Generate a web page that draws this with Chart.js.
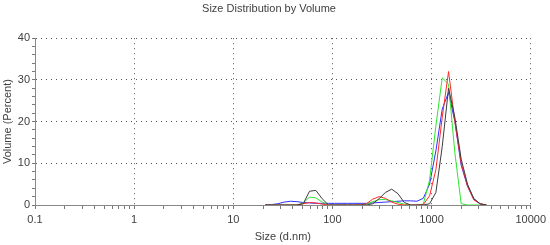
<!DOCTYPE html>
<html>
<head>
<meta charset="utf-8">
<script src="https://cdn.jsdelivr.net/npm/chart.js@4.4.0/dist/chart.umd.min.js"></script>
<style>
  html, body { margin: 0; padding: 0; background: #fff; }
  #wrap { width: 550px; height: 245px; }
</style>
</head>
<body>
<div id="wrap"><canvas id="chart"></canvas></div>
<script>
// size bins (d.nm)
const sizes = [21.04, 24.36, 28.21, 32.67, 37.84, 43.82, 50.75, 58.77, 68.06, 78.82, 91.28, 105.7, 122.4, 141.8, 164.2, 190.1, 220.2, 255.0, 295.3, 342.0, 396.1, 458.7, 531.2, 615.1, 712.4, 825.0, 955.4, 1106, 1281, 1484, 1718, 1990, 2305, 2669, 3091, 3580];

// volume % per run
const black = [0, 0, 0, 0, 0, 0, 0.3, 3.3, 3.5, 1.5, 0, 0, 0, 0, 0, 0, 0, 0.3, 1.5, 3.0, 3.8, 2.7, 0.6, 0, 0, 0, 0.3, 3, 14, 28, 21, 11, 5, 1.5, 0.3, 0];
const red = [0, 0, 0, 0, 0, 0, 0.3, 0.6, 0.5, 0.2, 0, 0, 0, 0, 0, 0, 0.3, 1.4, 2.0, 1.6, 0.7, 0.2, 0, 0, 0, 0.1, 2.2, 8.5, 21, 32, 20, 10, 4.5, 1.2, 0.3, 0];
const green = [0, 0, 0, 0, 0, 0, 0.5, 1.9, 1.7, 0.7, 0, 0, 0, 0, 0, 0, 0.2, 0.8, 1.3, 1.3, 1.0, 0.6, 0.2, 0, 0, 0.2, 6, 19, 30.5, 29, 12.5, 0.3, 0, 0, 0, 0];
const blue = [0, 0.1, 0.3, 0.7, 0.9, 0.8, 0.6, 0.5, 0.4, 0.4, 0.4, 0.4, 0.4, 0.4, 0.4, 0.4, 0.4, 0.5, 0.6, 0.7, 0.8, 0.9, 1.0, 1.0, 0.9, 1.6, 5, 13, 23, 27, 20, 9.5, 4.5, 1.5, 0.2, 0];

const xTicks = [];
for (let e = -1; e <= 3; e++) {
    for (let m = 1; m <= 9; m++) xTicks.push(m * Math.pow(10, e));
}
xTicks.push(10000);

function isDecade(v) {
    const l = Math.log10(v);
    return Math.abs(l - Math.round(l)) < 1e-9;
}

function series(label, values, color) {
    return {
        label: label,
        data: sizes.map((s, i) => ({x: s, y: values[i]})),
        borderColor: color,
        borderWidth: 1,
        pointRadius: 0,
        tension: 0,
        fill: false
    };
}

const font = {family: 'Arial, "Liberation Sans", sans-serif', size: 11, weight: 'normal'};
const textColor = '#404040';

new Chart(document.getElementById('chart'), {
    type: 'line',
    data: {
        datasets: [
            series('Record 1', black, '#3c3c3c'),
            series('Record 2', red, '#ff2a2a'),
            series('Record 3', green, '#2ee62e'),
            series('Record 4', blue, '#3030ff')
        ]
    },
    options: {
        responsive: true,
        maintainAspectRatio: false,
        animation: false,
        layout: {padding: {right: 12}},
        plugins: {
            legend: {display: false},
            tooltip: {enabled: false},
            title: {
                display: true,
                text: 'Size Distribution by Volume',
                color: textColor,
                font: font,
                padding: {top: 2, bottom: 23}
            }
        },
        scales: {
            x: {
                type: 'logarithmic',
                min: 0.1,
                max: 10000,
                afterBuildTicks: scale => {
                    scale.ticks = xTicks.map(v => ({value: v, major: isDecade(v)}));
                },
                afterFit: scale => { scale.height = 40; },
                ticks: {
                    autoSkip: false,
                    maxRotation: 0,
                    color: textColor,
                    font: font,
                    padding: 4,
                    callback: v => isDecade(v) ? String(v) : ''
                },
                grid: {
                    color: c => (c.tick && isDecade(c.tick.value) && c.tick.value > 0.1) ? '#555' : 'rgba(0,0,0,0)',
                    tickColor: '#777',
                    tickWidth: 1,
                    tickLength: 4,
                    lineWidth: 1
                },
                border: {color: '#888', width: 1, dash: [1, 4]},
                title: {
                    display: true,
                    text: 'Size (d.nm)',
                    color: textColor,
                    font: font,
                    padding: {top: 0, bottom: 1}
                }
            },
            y: {
                min: 0,
                max: 40,
                afterFit: scale => { scale.width = 35; },
                ticks: {
                    stepSize: 2,
                    autoSkip: false,
                    color: textColor,
                    font: font,
                    padding: 2,
                    callback: v => v % 10 === 0 ? String(v) : ''
                },
                grid: {
                    color: c => (c.tick && c.tick.value % 10 === 0 && c.tick.value > 0) ? '#555' : 'rgba(0,0,0,0)',
                    tickColor: '#777',
                    tickWidth: 1,
                    tickLength: 3,
                    lineWidth: 1
                },
                border: {color: '#888', width: 1, dash: [1, 4]},
                title: {
                    display: true,
                    text: 'Volume (Percent)',
                    color: textColor,
                    font: font,
                    padding: {top: 1, bottom: 0}
                }
            }
        }
    }
});
</script>
</body>
</html>
